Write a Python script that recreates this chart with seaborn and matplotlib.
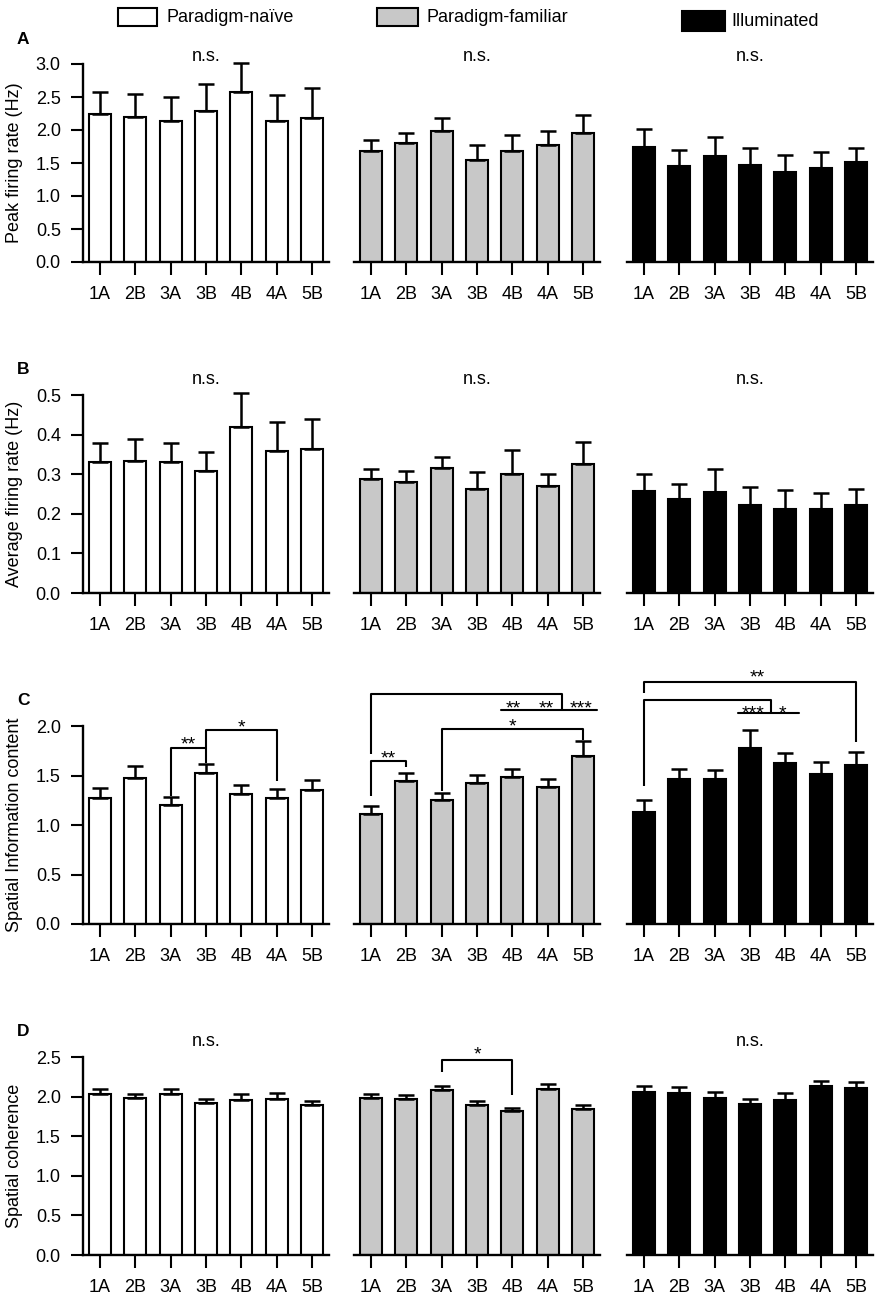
import numpy as np
import pandas as pd
import matplotlib
matplotlib.use('Agg')
import matplotlib.pyplot as plt
import matplotlib.transforms as mtransforms
from matplotlib.patches import Rectangle
import seaborn as sns

sessions = ['1A', '2B', '3A', '3B', '4B', '4A', '5B']
groups = ['Paradigm-naïve', 'Paradigm-familiar', 'Illuminated']
group_colors = ['white', '#c8c8c8', 'black']

# peak firing rate (Hz), mean and SEM
peak_naive = [2.24, 2.19, 2.13, 2.29, 2.58, 2.14, 2.18]
peak_naive_sem = [0.33, 0.36, 0.37, 0.40, 0.44, 0.39, 0.45]
peak_familiar = [1.68, 1.81, 1.99, 1.55, 1.68, 1.78, 1.96]
peak_familiar_sem = [0.17, 0.15, 0.19, 0.23, 0.25, 0.21, 0.27]
peak_illum = [1.74, 1.46, 1.61, 1.47, 1.36, 1.43, 1.51]
peak_illum_sem = [0.27, 0.23, 0.29, 0.26, 0.26, 0.23, 0.21]

# average firing rate (Hz)
avg_naive = [0.332, 0.334, 0.331, 0.307, 0.419, 0.359, 0.364]
avg_naive_sem = [0.047, 0.055, 0.048, 0.050, 0.087, 0.073, 0.075]
avg_familiar = [0.287, 0.281, 0.315, 0.263, 0.301, 0.269, 0.326]
avg_familiar_sem = [0.025, 0.026, 0.029, 0.042, 0.060, 0.031, 0.056]
avg_illum = [0.258, 0.237, 0.256, 0.222, 0.211, 0.213, 0.223]
avg_illum_sem = [0.043, 0.039, 0.056, 0.045, 0.049, 0.039, 0.040]

# spatial information content
info_naive = [1.27, 1.47, 1.20, 1.53, 1.31, 1.27, 1.35]
info_naive_sem = [0.10, 0.13, 0.08, 0.09, 0.09, 0.09, 0.10]
info_familiar = [1.11, 1.44, 1.25, 1.42, 1.48, 1.38, 1.70]
info_familiar_sem = [0.08, 0.09, 0.07, 0.09, 0.09, 0.08, 0.15]
info_illum = [1.13, 1.46, 1.46, 1.78, 1.63, 1.52, 1.61]
info_illum_sem = [0.12, 0.11, 0.10, 0.18, 0.10, 0.12, 0.13]

# spatial coherence
coh_naive = [2.03, 1.98, 2.03, 1.92, 1.96, 1.97, 1.90]
coh_naive_sem = [0.06, 0.05, 0.06, 0.05, 0.07, 0.07, 0.05]
coh_familiar = [1.98, 1.97, 2.08, 1.89, 1.82, 2.10, 1.84]
coh_familiar_sem = [0.05, 0.05, 0.06, 0.05, 0.04, 0.06, 0.05]
coh_illum = [2.06, 2.05, 1.98, 1.91, 1.96, 2.13, 2.11]
coh_illum_sem = [0.08, 0.07, 0.08, 0.06, 0.09, 0.07, 0.07]

row_letters = ['A', 'B', 'C', 'D']
row_ylabels = ['Peak firing rate (Hz)', 'Average firing rate (Hz)',
               'Spatial Information content', 'Spatial coherence']
row_ymax = [3.0, 0.5, 2.0, 2.5]
row_ystep = [0.5, 0.1, 0.5, 0.5]
row_means = [[peak_naive, peak_familiar, peak_illum],
             [avg_naive, avg_familiar, avg_illum],
             [info_naive, info_familiar, info_illum],
             [coh_naive, coh_familiar, coh_illum]]
row_sems = [[peak_naive_sem, peak_familiar_sem, peak_illum_sem],
            [avg_naive_sem, avg_familiar_sem, avg_illum_sem],
            [info_naive_sem, info_familiar_sem, info_illum_sem],
            [coh_naive_sem, coh_familiar_sem, coh_illum_sem]]

sns.set_style('ticks')
plt.rcParams['font.family'] = ['Liberation Sans', 'DejaVu Sans']
plt.rcParams['font.size'] = 13
for key in ['text.color', 'axes.labelcolor', 'xtick.color', 'ytick.color',
            'axes.edgecolor']:
    plt.rcParams[key] = 'black'

W, H = 882, 1300
fig = plt.figure(figsize=(W / 100, H / 100), dpi=100)

col_left = [83, 354, 627]
col_w = 246
row_top = [64, 395, 726, 1057]
row_h = 198
ns_y = [1.04, 1.08, None, 1.076]
LW = 1.5


def bracket(ax, x1, x2, y, y1, y2, label=None, xt=None, yt=None):
    ax.plot([x1, x1, x2, x2], [y1, y, y, y2], color='k', lw=LW,
            clip_on=False, solid_capstyle='butt')
    if label:
        star(ax, (x1 + x2) / 2 if xt is None else xt, yt, label)


def star(ax, x, y, label):
    # asterisks sit high in the glyph box, so anchor on baseline below
    ax.annotate(label, xy=(x, y), xytext=(0, -7.5), textcoords='offset points',
                ha='center', va='baseline', fontsize=14, annotation_clip=False)


axes = {}
for r in range(4):
    for c in range(3):
        ax = fig.add_axes([col_left[c] / W, 1 - (row_top[r] + row_h) / H,
                           col_w / W, row_h / H])
        axes[(r, c)] = ax
        df = pd.DataFrame({'session': sessions, 'value': row_means[r][c]})
        sns.barplot(data=df, x='session', y='value', color=group_colors[c],
                    saturation=1, edgecolor='black', linewidth=LW, width=0.62,
                    ax=ax)
        sem = np.array(row_sems[r][c])
        eb = ax.errorbar(np.arange(len(sessions)), row_means[r][c],
                         yerr=[np.zeros_like(sem), sem], fmt='none',
                         ecolor='black', elinewidth=LW + 0.3, capsize=5.5,
                         capthick=LW + 0.3, zorder=1)
        for part in eb.lines[1] + eb.lines[2]:
            part.set_clip_on(False)
        ax.set_xlim(-0.48, 6.48)
        ax.set_ylim(0, row_ymax[r])
        ax.set_xlabel('')
        ax.set_ylabel('')
        ax.spines['top'].set_visible(False)
        ax.spines['right'].set_visible(False)
        ax.spines['bottom'].set_linewidth(1.7)
        ax.tick_params(axis='x', length=9, width=1.5, pad=8.5, labelsize=13)
        if c == 0:
            ticks = np.arange(0, row_ymax[r] + 1e-9, row_ystep[r])
            ax.set_yticks(ticks)
            ax.set_yticklabels([f'{t:.1f}' for t in ticks])
            ax.spines['left'].set_bounds(0, row_ymax[r])
            ax.spines['left'].set_linewidth(1.7)
            ax.tick_params(axis='y', length=9, width=1.5, pad=7, labelsize=13)
            ax.set_ylabel(row_ylabels[r], fontsize=13)
            ax.yaxis.set_label_coords(-0.245, 0.5)
        else:
            ax.spines['left'].set_visible(False)
            ax.set_yticks([])
        if ns_y[r] is not None and not (r == 3 and c == 1):
            trans = mtransforms.blended_transform_factory(ax.transData, ax.transAxes)
            ax.text(3, ns_y[r], 'n.s.', transform=trans, ha='center',
                    va='center', fontsize=13)

    fig.text(17 / W, 1 - (row_top[r] - 25) / H, row_letters[r],
             fontsize=12.5, fontweight='bold', va='center', ha='left')

# significance brackets, row C
ax = axes[(2, 0)]
bracket(ax, 2, 3, 1.775, 1.29, 1.63, '**', yt=1.87)
bracket(ax, 3, 5, 1.96, 1.775, 1.44, '*', yt=2.04)

ax = axes[(2, 1)]
bracket(ax, 0, 5.4, 2.32, 1.72, 2.16)
ax.plot([3.67, 6.4], [2.16, 2.16], color='k', lw=LW, clip_on=False)
star(ax, 4.03, 2.23, '**')
star(ax, 4.96, 2.23, '**')
star(ax, 5.95, 2.23, '***')
bracket(ax, 2, 6, 1.97, 1.34, 1.86, '*', xt=4.0, yt=2.05)
bracket(ax, 0, 1, 1.65, 1.29, 1.59, '**', yt=1.73)

ax = axes[(2, 2)]
bracket(ax, 0, 6, 2.44, 2.33, 1.84, '**', xt=3.2, yt=2.54)
bracket(ax, 0, 3.58, 2.26, 1.39, 2.13)
ax.plot([2.67, 4.40], [2.13, 2.13], color='k', lw=LW, clip_on=False)
star(ax, 3.1, 2.18, '***')
star(ax, 3.92, 2.18, '*')

# row D
ax = axes[(3, 1)]
bracket(ax, 2, 4, 2.46, 2.31, 2.02, '*', yt=2.60)

# legend
legend_boxes = [(118, 8, 39, 18), (377, 8, 41, 18), (682, 11, 43, 20)]
legend_text_x = [167, 426, 731]
for (x0, y0, bw, bh), tx, name, col in zip(legend_boxes, legend_text_x,
                                            groups, group_colors):
    fig.patches.append(Rectangle((x0 / W, 1 - (y0 + bh) / H), bw / W, bh / H,
                                 transform=fig.transFigure, facecolor=col,
                                 edgecolor='black', linewidth=1.5))
    fig.text(tx / W, 1 - (y0 + bh / 2) / H, name, fontsize=13,
             va='center', ha='left')

fig.savefig('out.png', dpi=100)
